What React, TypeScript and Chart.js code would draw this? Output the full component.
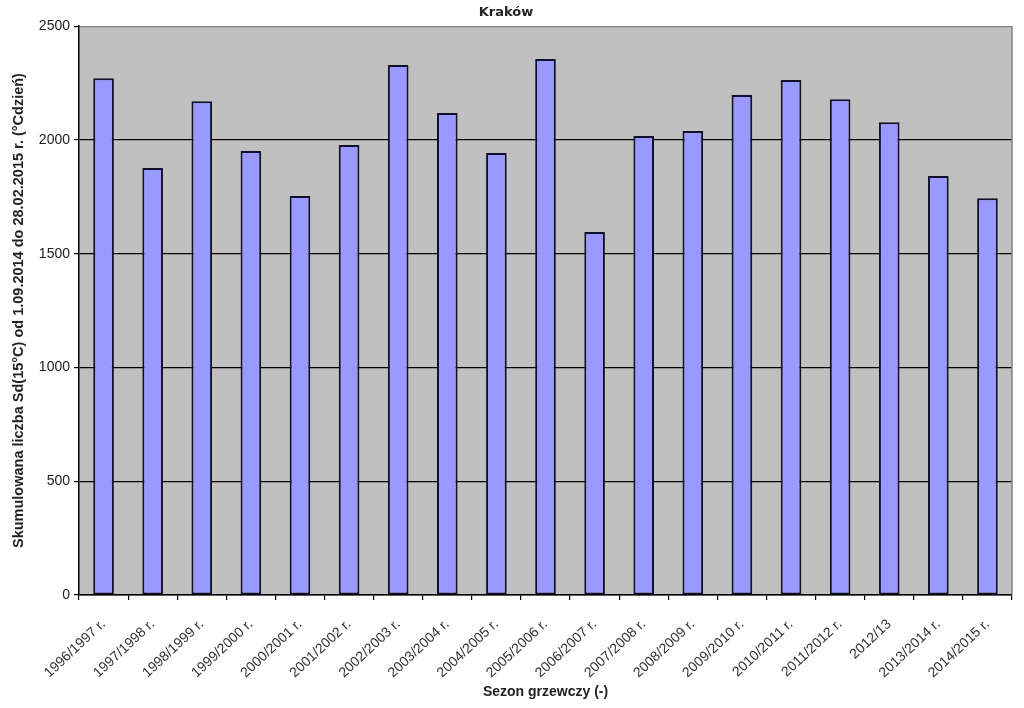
import { useEffect, useRef } from 'react'
import { Chart, registerables } from 'chart.js'

Chart.register(...registerables)

const seasons = [
  '1996/1997 r.',
  '1997/1998 r.',
  '1998/1999 r.',
  '1999/2000 r.',
  '2000/2001 r.',
  '2001/2002 r.',
  '2002/2003 r.',
  '2003/2004 r.',
  '2004/2005 r.',
  '2005/2006 r.',
  '2006/2007 r.',
  '2007/2008 r.',
  '2008/2009 r.',
  '2009/2010 r.',
  '2010/2011 r.',
  '2011/2012 r.',
  '2012/13',
  '2013/2014 r.',
  '2014/2015 r.',
]

// cumulated degree-days per season
const degreeDays = [
  2271, 1876, 2170, 1951, 1753, 1977, 2329, 2118, 1942, 2355, 1595, 2017, 2039, 2197, 2263, 2179,
  2078, 1841, 1744,
]

const yTicks = [0, 500, 1000, 1500, 2000, 2500]

const FONT = "'Liberation Sans', Arial, sans-serif"

// gray plot background + gray right edge, like the old Excel chart
const plotBackground = {
  id: 'plotBackground',
  beforeDraw(chart: Chart) {
    const { ctx, chartArea } = chart
    ctx.save()
    ctx.fillStyle = '#c0c0c0'
    ctx.fillRect(chartArea.left, chartArea.top, chartArea.right - chartArea.left, chartArea.bottom - chartArea.top)
    ctx.restore()
  },
  beforeDatasetsDraw(chart: Chart) {
    const { ctx, chartArea } = chart
    ctx.save()
    ctx.strokeStyle = '#808080'
    ctx.lineWidth = 1.5
    ctx.beginPath()
    ctx.moveTo(chartArea.right, chartArea.top)
    ctx.lineTo(chartArea.right, chartArea.bottom)
    ctx.stroke()
    ctx.restore()
  },
}

export default function App() {
  const canvasRef = useRef<HTMLCanvasElement>(null)
  const chartRef = useRef<Chart | null>(null)

  useEffect(() => {
    document.body.style.margin = '0'
    if (!canvasRef.current) return
    if (chartRef.current) chartRef.current.destroy()

    chartRef.current = new Chart(canvasRef.current, {
      type: 'bar',
      data: {
        labels: seasons,
        datasets: [
          {
            data: degreeDays,
            backgroundColor: '#9999ff',
            borderColor: '#10102a',
            borderWidth: 2,
            borderSkipped: false,
            barPercentage: 0.42,
            categoryPercentage: 1,
          },
        ],
      },
      options: {
        animation: false,
        responsive: true,
        maintainAspectRatio: false,
        layout: { padding: { left: 0, right: 12, top: 0, bottom: 0 } },
        plugins: {
          legend: { display: false },
          tooltip: { enabled: false },
          title: {
            display: true,
            text: 'Kraków',
            color: '#222',
            font: { family: "'DejaVu Sans', Verdana, sans-serif", size: 13, weight: 'bold' },
            padding: { top: 5, bottom: 5.5 },
          },
        },
        scales: {
          x: {
            offset: true,
            grid: {
              offset: true,
              drawOnChartArea: false,
              color: '#000',
              tickLength: 5,
              lineWidth: 1.2,
            },
            border: { color: '#000', width: 1.5 },
            ticks: {
              minRotation: 43,
              maxRotation: 43,
              autoSkip: false,
              padding: 16,
              color: '#333',
              font: { family: FONT, size: 14 },
            },
            title: {
              display: true,
              text: 'Sezon grzewczy (-)',
              color: '#222',
              font: { family: FONT, size: 14, weight: 'bold' },
              padding: { top: 0, bottom: 7 },
            },
            afterFit(scale) {
              scale.height = 113
            },
          },
          y: {
            min: 0,
            max: 2500,
            afterBuildTicks(scale) {
              scale.ticks = yTicks.map((v) => ({ value: v }))
            },
            grid: {
              color: (ctx) => (ctx.tick && ctx.tick.value === 2500 ? '#808080' : '#000'),
              tickColor: '#000',
              tickLength: 5,
              lineWidth: 1.2,
            },
            border: { color: '#000', width: 1.5 },
            ticks: {
              padding: 4,
              color: '#222',
              font: { family: FONT, size: 14 },
              callback: (v) => String(v),
            },
            title: {
              display: true,
              text: 'Skumulowana liczba Sd(15°C) od 1.09.2014 do 28.02.2015 r. (°Cdzień)',
              color: '#222',
              font: { family: FONT, size: 14.5, weight: 'bold' },
              padding: { top: 10, bottom: 0 },
            },
            afterFit(scale) {
              scale.width = 79
            },
          },
        },
      },
      plugins: [plotBackground],
    })

    return () => {
      if (chartRef.current) {
        chartRef.current.destroy()
        chartRef.current = null
      }
    }
  }, [])

  return (
    <div style={{ position: 'relative', width: 1024, height: 708, background: '#fff' }}>
      <canvas ref={canvasRef} />
    </div>
  )
}
